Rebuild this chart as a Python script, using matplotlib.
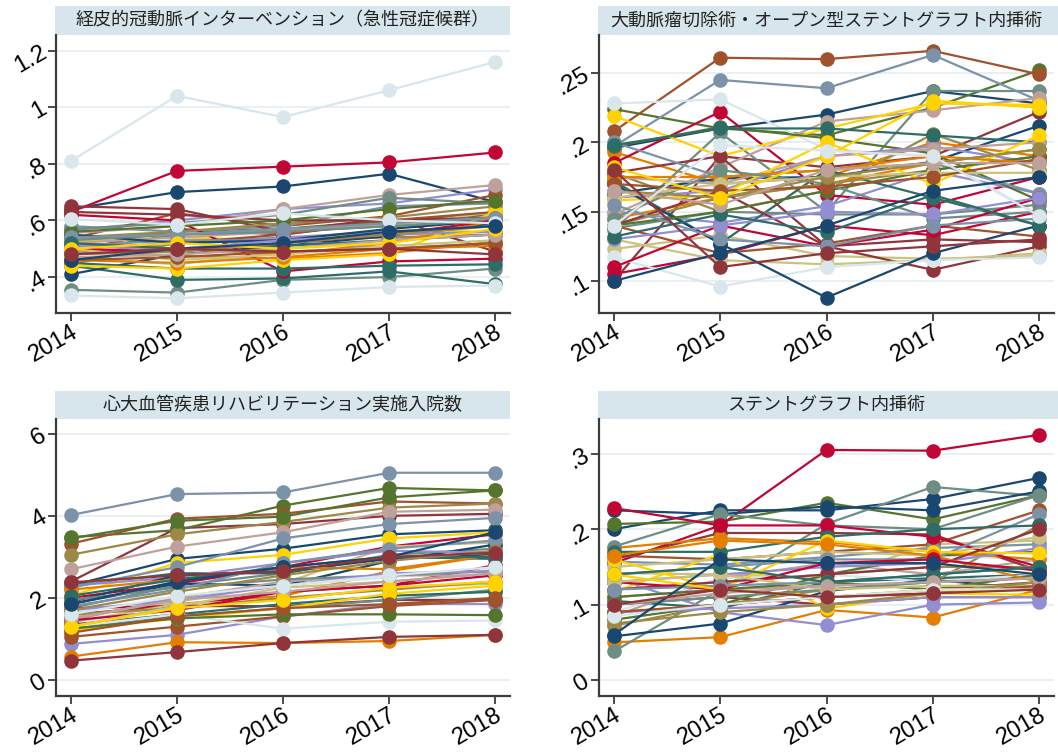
import matplotlib
matplotlib.use("Agg")
import matplotlib.pyplot as plt
from matplotlib.patches import Rectangle

# Years on the horizontal axis
years = [2014, 2015, 2016, 2017, 2018]

# Stata s2color palette, cycled over the prefecture series
palette = ["#1a476f", "#90353b", "#55752f", "#e37e00", "#6e8e84",
           "#c10534", "#938dd2", "#cac27e", "#a0522d", "#7b92a8",
           "#2d6d66", "#9c8847", "#bfa19c", "#ffd200", "#d9e6eb"]

# Panel titles
titles = ["経皮的冠動脈インターベンション（急性冠症候群）",
          "大動脈瘤切除術・オープン型ステントグラフト内挿術",
          "心大血管疾患リハビリテーション実施入院数",
          "ステントグラフト内挿術"]

# Percutaneous coronary intervention (acute coronary syndrome)
pci_acs = [
    [0.64, 0.70, 0.72, 0.765, 0.665],
    [0.49, 0.57, 0.55, 0.595, 0.60],
    [0.53, 0.56, 0.57, 0.60, 0.62],
    [0.495, 0.475, 0.465, 0.485, 0.525],
    [0.355, 0.345, 0.39, 0.40, 0.43],
    [0.63, 0.775, 0.79, 0.805, 0.84],
    [0.565, 0.60, 0.64, 0.66, 0.71],
    [0.47, 0.445, 0.49, 0.50, 0.52],
    [0.535, 0.625, 0.58, 0.615, 0.69],
    [0.58, 0.56, 0.58, 0.65, 0.66],
    [0.44, 0.39, 0.395, 0.42, 0.375],
    [0.445, 0.52, 0.53, 0.54, 0.55],
    [0.555, 0.58, 0.64, 0.69, 0.725],
    [0.525, 0.54, 0.53, 0.565, 0.56],
    [0.81, 1.04, 0.965, 1.06, 1.16],
    [0.41, 0.48, 0.51, 0.545, 0.59],
    [0.65, 0.64, 0.56, 0.61, 0.49],
    [0.49, 0.55, 0.56, 0.58, 0.60],
    [0.52, 0.50, 0.48, 0.52, 0.60],
    [0.57, 0.59, 0.62, 0.68, 0.66],
    [0.62, 0.60, 0.42, 0.455, 0.465],
    [0.48, 0.52, 0.54, 0.56, 0.58],
    [0.53, 0.55, 0.57, 0.58, 0.63],
    [0.50, 0.52, 0.55, 0.60, 0.63],
    [0.51, 0.53, 0.53, 0.50, 0.52],
    [0.45, 0.43, 0.43, 0.44, 0.445],
    [0.54, 0.56, 0.59, 0.61, 0.65],
    [0.52, 0.54, 0.56, 0.59, 0.61],
    [0.44, 0.43, 0.46, 0.48, 0.63],
    [0.335, 0.325, 0.345, 0.365, 0.37],
    [0.55, 0.52, 0.53, 0.57, 0.60],
    [0.63, 0.62, 0.60, 0.60, 0.61],
    [0.56, 0.58, 0.60, 0.64, 0.67],
    [0.46, 0.45, 0.47, 0.50, 0.51],
    [0.53, 0.55, 0.56, 0.58, 0.60],
    [0.50, 0.49, 0.52, 0.55, 0.60],
    [0.51, 0.50, 0.53, 0.55, 0.56],
    [0.50, 0.46, 0.48, 0.51, 0.53],
    [0.46, 0.47, 0.49, 0.50, 0.52],
    [0.54, 0.55, 0.57, 0.59, 0.61],
    [0.52, 0.50, 0.51, 0.53, 0.55],
    [0.48, 0.49, 0.52, 0.55, 0.58],
    [0.47, 0.48, 0.50, 0.53, 0.55],
    [0.50, 0.52, 0.50, 0.52, 0.57],
    [0.605, 0.585, 0.625, 0.60, 0.59],
    [0.46, 0.50, 0.52, 0.56, 0.58],
    [0.48, 0.50, 0.49, 0.50, 0.48],
]

# Aortic aneurysm resection / open stent graft
aortic_open = [
    [0.196, 0.21, 0.22, 0.237, 0.228],
    [0.10, 0.19, 0.182, 0.19, 0.222],
    [0.224, 0.21, 0.205, 0.225, 0.252],
    [0.193, 0.17, 0.175, 0.20, 0.19],
    [0.137, 0.207, 0.15, 0.237, 0.237],
    [0.185, 0.222, 0.162, 0.155, 0.175],
    [0.15, 0.142, 0.154, 0.179, 0.163],
    [0.123, 0.133, 0.118, 0.116, 0.118],
    [0.208, 0.261, 0.26, 0.266, 0.249],
    [0.197, 0.245, 0.239, 0.263, 0.23],
    [0.172, 0.127, 0.18, 0.16, 0.14],
    [0.178, 0.15, 0.165, 0.206, 0.18],
    [0.148, 0.182, 0.215, 0.223, 0.232],
    [0.219, 0.19, 0.21, 0.228, 0.227],
    [0.228, 0.231, 0.195, 0.19, 0.148],
    [0.163, 0.174, 0.175, 0.186, 0.212],
    [0.178, 0.19, 0.125, 0.108, 0.125],
    [0.197, 0.211, 0.203, 0.192, 0.158],
    [0.145, 0.16, 0.17, 0.185, 0.195],
    [0.138, 0.15, 0.148, 0.148, 0.155],
    [0.105, 0.119, 0.14, 0.133, 0.15],
    [0.16, 0.165, 0.19, 0.197, 0.185],
    [0.13, 0.115, 0.112, 0.115, 0.12],
    [0.14, 0.12, 0.127, 0.14, 0.132],
    [0.20, 0.175, 0.18, 0.185, 0.163],
    [0.198, 0.21, 0.21, 0.205, 0.20],
    [0.14, 0.16, 0.17, 0.18, 0.19],
    [0.175, 0.17, 0.19, 0.195, 0.20],
    [0.158, 0.162, 0.20, 0.17, 0.205],
    [0.117, 0.096, 0.11, 0.115, 0.117],
    [0.17, 0.127, 0.088, 0.12, 0.14],
    [0.14, 0.165, 0.125, 0.13, 0.128],
    [0.14, 0.15, 0.165, 0.18, 0.19],
    [0.175, 0.175, 0.18, 0.19, 0.185],
    [0.145, 0.18, 0.17, 0.145, 0.15],
    [0.11, 0.14, 0.125, 0.137, 0.16],
    [0.13, 0.14, 0.15, 0.148, 0.16],
    [0.16, 0.17, 0.175, 0.178, 0.178],
    [0.17, 0.165, 0.168, 0.175, 0.188],
    [0.155, 0.13, 0.125, 0.14, 0.145],
    [0.132, 0.148, 0.135, 0.162, 0.14],
    [0.165, 0.16, 0.175, 0.185, 0.195],
    [0.165, 0.155, 0.18, 0.185, 0.185],
    [0.182, 0.16, 0.19, 0.23, 0.225],
    [0.14, 0.198, 0.194, 0.19, 0.147],
    [0.10, 0.12, 0.14, 0.165, 0.175],
    [0.18, 0.11, 0.12, 0.125, 0.13],
]

# Inpatients receiving cardiovascular rehabilitation
cardiac_rehab = [
    [2.30, 2.95, 3.20, 3.55, 3.65],
    [2.40, 3.70, 3.80, 4.00, 4.05],
    [3.48, 3.65, 4.25, 4.68, 4.62],
    [1.55, 1.85, 2.05, 2.65, 3.05],
    [1.75, 2.30, 2.60, 3.05, 3.20],
    [2.00, 2.35, 2.75, 3.25, 3.55],
    [0.88, 1.10, 1.55, 1.85, 1.85],
    [1.55, 1.90, 2.35, 3.25, 3.35],
    [3.32, 3.93, 4.05, 4.35, 4.30],
    [4.02, 4.53, 4.57, 5.05, 5.05],
    [2.30, 2.60, 2.60, 3.00, 2.95],
    [3.05, 3.55, 3.85, 4.20, 4.30],
    [2.70, 3.25, 3.60, 4.10, 4.15],
    [2.05, 2.85, 3.05, 3.45, 3.60],
    [1.65, 2.00, 2.30, 2.50, 2.70],
    [1.85, 2.35, 2.30, 2.90, 3.30],
    [1.60, 1.80, 1.80, 1.95, 1.95],
    [3.45, 3.88, 3.98, 4.45, 4.62],
    [0.57, 0.92, 0.90, 0.95, 1.10],
    [1.25, 1.55, 1.75, 1.95, 2.20],
    [1.75, 1.80, 2.15, 2.30, 2.80],
    [2.30, 2.50, 2.85, 3.15, 3.10],
    [1.40, 1.85, 1.95, 2.25, 2.35],
    [1.05, 1.30, 1.55, 1.80, 1.95],
    [2.25, 2.75, 3.45, 3.80, 3.95],
    [1.35, 1.60, 1.85, 2.05, 2.15],
    [1.60, 1.75, 2.00, 2.20, 2.40],
    [1.45, 2.00, 2.40, 2.55, 2.55],
    [1.20, 1.50, 1.75, 2.10, 2.30],
    [1.30, 1.60, 1.25, 1.42, 1.45],
    [1.90, 2.55, 2.65, 2.95, 3.05],
    [0.47, 0.68, 0.90, 1.05, 1.10],
    [1.25, 1.50, 1.60, 1.60, 1.58],
    [2.20, 2.45, 2.75, 2.70, 3.05],
    [1.95, 2.25, 2.45, 2.55, 2.65],
    [1.45, 1.70, 2.15, 2.30, 2.55],
    [1.70, 1.95, 2.30, 2.60, 2.65],
    [1.30, 1.80, 2.25, 2.40, 2.60],
    [1.15, 1.55, 1.75, 1.85, 2.00],
    [1.80, 2.20, 2.85, 3.20, 3.40],
    [2.05, 2.45, 2.75, 3.00, 3.00],
    [1.70, 2.15, 2.55, 2.90, 3.15],
    [1.50, 1.95, 2.15, 2.40, 2.60],
    [1.30, 1.75, 1.95, 2.25, 2.40],
    [1.60, 2.05, 2.30, 2.55, 2.75],
    [1.85, 2.40, 2.75, 3.00, 3.60],
    [2.38, 2.55, 2.65, 3.00, 3.10],
]

# Endovascular stent graft placement
stent_graft = [
    [0.20, 0.225, 0.225, 0.24, 0.268],
    [0.10, 0.11, 0.10, 0.11, 0.11],
    [0.207, 0.21, 0.235, 0.213, 0.245],
    [0.05, 0.057, 0.093, 0.083, 0.12],
    [0.038, 0.12, 0.207, 0.256, 0.244],
    [0.155, 0.205, 0.305, 0.304, 0.325],
    [0.135, 0.09, 0.073, 0.10, 0.103],
    [0.142, 0.14, 0.135, 0.18, 0.185],
    [0.165, 0.16, 0.17, 0.18, 0.225],
    [0.157, 0.153, 0.163, 0.175, 0.18],
    [0.105, 0.095, 0.13, 0.135, 0.14],
    [0.072, 0.10, 0.12, 0.13, 0.205],
    [0.085, 0.135, 0.155, 0.14, 0.16],
    [0.117, 0.167, 0.095, 0.115, 0.113],
    [0.09, 0.135, 0.138, 0.165, 0.16],
    [0.225, 0.22, 0.23, 0.225, 0.25],
    [0.16, 0.195, 0.195, 0.193, 0.145],
    [0.08, 0.10, 0.14, 0.165, 0.17],
    [0.175, 0.188, 0.183, 0.17, 0.16],
    [0.177, 0.22, 0.205, 0.20, 0.245],
    [0.228, 0.205, 0.205, 0.19, 0.15],
    [0.13, 0.14, 0.15, 0.155, 0.175],
    [0.15, 0.16, 0.17, 0.165, 0.19],
    [0.09, 0.10, 0.11, 0.12, 0.13],
    [0.14, 0.15, 0.16, 0.16, 0.22],
    [0.17, 0.17, 0.19, 0.20, 0.205],
    [0.12, 0.13, 0.14, 0.15, 0.15],
    [0.11, 0.12, 0.125, 0.13, 0.14],
    [0.16, 0.12, 0.185, 0.17, 0.168],
    [0.12, 0.13, 0.14, 0.13, 0.14],
    [0.058, 0.075, 0.118, 0.133, 0.12],
    [0.12, 0.13, 0.14, 0.15, 0.20],
    [0.11, 0.12, 0.13, 0.12, 0.14],
    [0.165, 0.185, 0.18, 0.165, 0.13],
    [0.10, 0.11, 0.12, 0.13, 0.135],
    [0.13, 0.12, 0.155, 0.16, 0.145],
    [0.09, 0.095, 0.10, 0.11, 0.11],
    [0.13, 0.14, 0.12, 0.125, 0.125],
    [0.09, 0.10, 0.11, 0.115, 0.125],
    [0.12, 0.125, 0.13, 0.14, 0.15],
    [0.14, 0.15, 0.13, 0.14, 0.15],
    [0.075, 0.09, 0.10, 0.115, 0.13],
    [0.10, 0.115, 0.125, 0.13, 0.135],
    [0.14, 0.12, 0.11, 0.12, 0.12],
    [0.085, 0.10, 0.11, 0.12, 0.12],
    [0.06, 0.16, 0.155, 0.155, 0.14],
    [0.10, 0.12, 0.11, 0.115, 0.12],
]

# Per-panel y axis settings: ticks, tick labels, limits
y_ticks = [[0.4, 0.6, 0.8, 1.0, 1.2], [0.10, 0.15, 0.20, 0.25],
           [0, 2, 4, 6], [0, 0.1, 0.2, 0.3]]
y_ticklabels = [[".4", ".6", ".8", "1", "1.2"], [".1", ".15", ".2", ".25"],
                ["0", "2", "4", "6"], ["0", ".1", ".2", ".3"]]
y_limits = [(0.273, 1.255), (0.0769, 0.2774), (-0.39, 6.36), (-0.021, 0.346)]

panels = [pci_acs, aortic_open, cardiac_rehab, stent_graft]

W, H = 1058, 752
fig = plt.figure(figsize=(W / 100, H / 100), dpi=100)
fig.patch.set_facecolor("white")

# Axes rectangles in pixels: left, right, top, bottom; strip top
boxes = [(56, 510, 35, 313, 6), (599, 1054, 35, 313, 6),
         (56, 510, 419, 696, 391), (599, 1054, 419, 696, 391)]
strip_right = [510, 1058, 510, 1058]
axis_col = "#3c3c3c"
tick_font = "Liberation Sans"

for p, (l, r, t, b, st) in enumerate(boxes):
    ax = fig.add_axes([l / W, 1 - b / H, (r - l) / W, (b - t) / H])
    data = panels[p]
    for i, series in enumerate(data):
        c = palette[i % len(palette)]
        ax.plot(years, series, color=c, lw=1.6, marker="o", ms=10.5,
                markeredgewidth=0, zorder=3, solid_capstyle="round")
    ax.set_xlim(2013.86, 2018.14)
    ax.set_ylim(*y_limits[p])
    ax.set_xticks(years)
    ax.set_xticklabels([str(y) for y in years], rotation=30,
                       ha="right", va="top", rotation_mode="anchor",
                       fontsize=17, family=tick_font)
    ax.set_yticks(y_ticks[p])
    ax.set_yticklabels(y_ticklabels[p], rotation=30, ha="right",
                       va="center", rotation_mode="anchor", fontsize=17.5,
                       family=tick_font)
    ax.grid(axis="y", color="#e4edf1", lw=1.2, zorder=0)
    ax.set_axisbelow(True)
    for side in ["top", "right"]:
        ax.spines[side].set_visible(False)
    for side in ["left", "bottom"]:
        ax.spines[side].set_color(axis_col)
        ax.spines[side].set_linewidth(1.6)
    ax.tick_params(axis="both", length=6, width=1.3, color=axis_col,
                   labelcolor="black")
    ax.tick_params(axis="x", pad=0)
    ax.tick_params(axis="y", pad=2)

    # Title strip above each panel
    sl = l - 1
    sr = strip_right[p]
    fig.add_artist(Rectangle((sl / W, 1 - t / H), (sr - sl) / W, (t - st) / H,
                             transform=fig.transFigure, facecolor="#d7e5ec",
                             edgecolor="none", zorder=0))
    fig.text((l + r) / 2 / W, 1 - (t + st) / 2 / H, titles[p],
             ha="center", va="center", fontsize=13,
             family=["Noto Sans CJK JP", "DejaVu Sans"], color="#222222")

fig.savefig("out.png", dpi=100, facecolor="white")
